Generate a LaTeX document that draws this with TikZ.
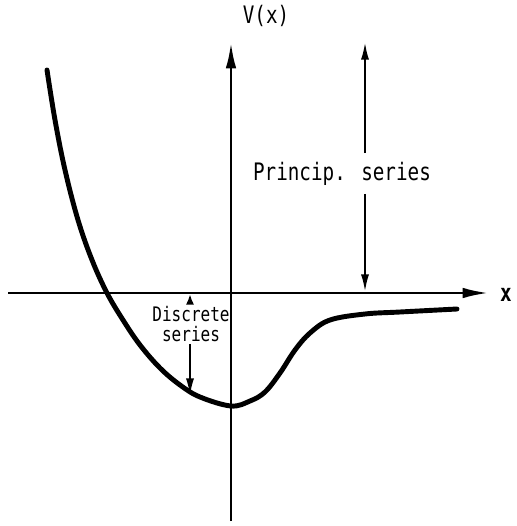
\documentclass[tikz,border=0pt]{standalone}
\usepackage{fontspec}
\newfontfamily\plotfont[FakeStretch=0.8]{DejaVu Sans Mono}
\usetikzlibrary{arrows.meta, calc}

\begin{document}
\begin{tikzpicture}[x=0.02cm, y=-0.02cm,
  axis/.style={line width=1.7pt,-{Latex[length=15pt,width=6pt]}},
  arr/.style={line width=1.3pt,-{Latex[length=10pt,width=4.6pt]}},
  small/.style={line width=1.3pt,-{Latex[length=6pt,width=4.6pt]}},
  curve/.style={line width=2.8pt,line cap=round,line join=round},
  lab/.style={font=\plotfont\fontsize{13.7}{15}\selectfont,inner sep=1pt},
  lab2/.style={font=\plotfont\fontsize{11.4}{11.5}\selectfont,inner sep=1pt,align=center}
]
\useasboundingbox (0,0) rectangle (516,526);
% axes
\coordinate (xl) at (8,293);
\coordinate (xr) at (489,293);
\coordinate (yb) at (231,521);
\coordinate (yt) at (231,42);
\draw[axis] (xl) -- (xr);
\draw[axis] (yb) -- (yt);
\node[lab] (vlab) at (266,16) {V(x)};
\node[lab,font=\plotfont\bfseries\fontsize{13.7}{15}\selectfont] (xlab) at (506,295) {x};
% potential
\draw[curve] plot[smooth,tension=0.6] coordinates {
  (47,70) (55,120) (65,170) (78,220) (92,260) (107,293) (123,320)
  (140,345) (160,368) (180,385) (200,397) (231,406) (250,401)
  (265,392) (280,373) (295,350) (310,333) (330,320) (365,314)
  (400,312) (457,309)};
% principal series
\coordinate (ptop) at (365,42);
\coordinate (pbot) at (365,292);
\node[lab] (ps) at (342,174) {Princip. series};
\draw[arr] (ptop |- ps.north) ++(0,-7) -- (ptop);
\draw[arr] (pbot |- ps.south) ++(0,6) -- (pbot);
% discrete series
\coordinate (dtop) at (190,294);
\coordinate (dbot) at (190,396);
\node[lab2] (ds) at (191,324) {Discrete\\series};
\draw[small] (dtop |- ds.north) -- (dtop);
\draw[arr] (dbot |- ds.south) -- (dbot);
\end{tikzpicture}
\end{document}
